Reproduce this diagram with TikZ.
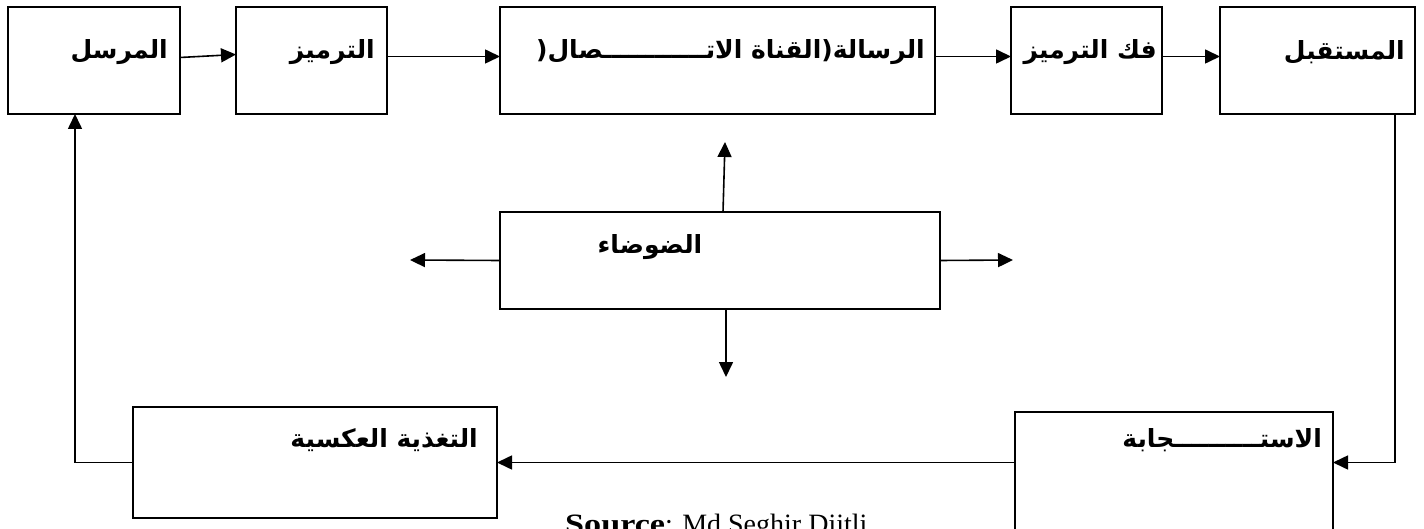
\documentclass[tikz,border=0pt]{standalone}
\usepackage{fontspec}
\setmainfont{Liberation Serif}
\newfontfamily\arabicfont[Script=Arabic]{DejaVu Sans}
\TeXXeTstate=1
\usetikzlibrary{arrows.meta,calc}
\tikzset{
  box/.style={draw, line width=2.2pt, inner sep=0pt, outer sep=0pt, anchor=north west},
  lbl/.style={font=\arabicfont\bfseries\fontsize{25}{30}\selectfont, inner sep=0pt, anchor=east},
  arr/.style={line width=1.6pt, -{Triangle[length=15pt,width=14pt]}},
  srcstyle/.style={font=\fontsize{28}{32}\selectfont, inner sep=0pt, anchor=base west}
}
\begin{document}
\begin{tikzpicture}[x=1pt,y=-1pt]
\clip (0,0) rectangle (1424,529);
% top row
\node[box, minimum width=172pt, minimum height=107pt] (snd) at (8,7) {};
\node[box, minimum width=151pt, minimum height=107pt] (enc) at (236,7) {};
\node[box, minimum width=435pt, minimum height=107pt] (msg) at (500,7) {};
\node[box, minimum width=151pt, minimum height=107pt] (dec) at (1011,7) {};
\node[box, minimum width=195pt, minimum height=107pt] (rec) at (1220,7) {};
% noise
\node[box, minimum width=440pt, minimum height=97pt] (noise) at (500,212) {};
% bottom
\node[box, minimum width=364pt, minimum height=111pt] (fb) at (133,407) {};
\node[box, minimum width=318pt, minimum height=150pt] (resp) at (1015,412) {};
% labels
\node[lbl] (tsnd) at ($(snd.north east)+(-12,45)$) {\beginR المرسل\endR};
\node[lbl] (tenc) at ($(enc.north east)+(-12,45)$) {\beginR الترميز\endR};
\node[lbl] (tmsg) at ($(msg.north east)+(-10,45)$) {\beginR الرسالة(القناة الاتــــــــــــصال(\endR};
\node[lbl] (tdec) at ($(dec.north east)+(-5,45)$) {\beginR فك الترميز\endR};
\node[lbl] (trec) at ($(rec.north east)+(-10,45)$) {\beginR المستقبل\endR};
\node[lbl, anchor=center] (tnoise) at ($(noise.north)+(-70,35)$) {\beginR الضوضاء\endR};
\node[lbl] (tfb) at ($(fb.north east)+(-19,33)$) {\beginR التغذية العكسية\endR};
\node[lbl] (tresp) at ($(resp.north east)+(-11,28)$) {\beginR الاستــــــــــجابة\endR};
% top arrows
\draw[arr] ([yshift=3pt]snd.east) -- ([yshift=6pt]enc.west);
\draw[arr] ([yshift=4pt]enc.east) -- ([yshift=4pt]msg.west);
\draw[arr] ([yshift=4pt]msg.east) -- ([yshift=4pt]dec.west);
\draw[arr] ([yshift=4pt]dec.east) -- ([yshift=4pt]rec.west);
% noise arrows
\coordinate (nl) at (410,260);
\coordinate (nr) at (1013,260);
\coordinate (nu) at (725,142);
\coordinate (nd) at (726,377);
\draw[arr] (noise.west) -- (nl);
\draw[arr] (noise.east) -- (nr);
\draw[arr] ([xshift=3pt]noise.north) -- (nu);
\draw[arr] ([xshift=6pt]noise.south) -- (nd);
% feedback loop
\draw[arr] ([xshift=-20pt]rec.south east) |- (resp.east |- fb.east);
\draw[arr] (resp.west |- fb.east) -- (fb.east);
\draw[arr] (fb.west) -| ([xshift=67pt]snd.south west);
% source
\node[srcstyle] (srcnode) at (565,533) {\scalebox{1.22}[1]{\textbf{Source}}: Md Seghir Djitli};
\end{tikzpicture}
\end{document}
